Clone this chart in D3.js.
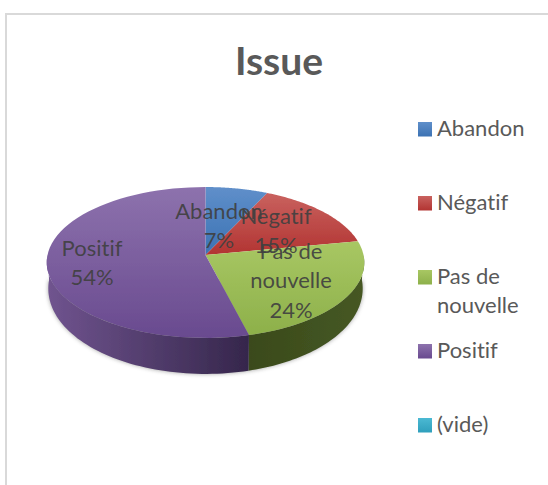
<!DOCTYPE html>
<html>
<head>
<meta charset="utf-8">
<script src="https://cdn.jsdelivr.net/npm/d3@7"></script>
<style>
  html, body { margin: 0; padding: 0; background: #fff; overflow: hidden; }
  text { font-family: Lato, "Open Sans", sans-serif; font-variant-ligatures: none; }
</style>
</head>
<body>
<div id="viz"></div>
<script>
const categories = ['Abandon', 'Négatif', 'Pas de nouvelle', 'Positif', '(vide)'];
const values = [7, 15, 24, 54, 0];
const legendLines = [['Abandon'], ['Négatif'], ['Pas de', 'nouvelle'], ['Positif'], ['(vide)']];
const labelLines = [['Abandon'], ['Négatif'], ['Pas de', 'nouvelle'], ['Positif'], []];

const width = 548;
const height = 485;
const topColors = [['#5f8fca', '#3c72b3'], ['#c9625f', '#b23432'], ['#a8c763', '#8db04a'], ['#8d72ad', '#694a8f'], ['#4bb9d3', '#2f9fbc']];
const wallColors = { 2: ['#3a4a1b', '#465824'], 3: ['#70548f', '#35264b'] };

// pie geometry, the tilt is a small perspective so the far side looks shorter
const cx = 205.5, cy = 255, rx = 158, ry = 74.7, persp = 0.099;
const project = (a, r = 1) => {
  const s = 1 / (1 + persp * Math.cos(a) * r);
  return [cx + rx * r * Math.sin(a) * s, cy - ry * r * Math.cos(a) * s];
};
const projectLow = a => {
  const [x, y] = project(a);
  return [cx + (x - cx) * 0.99, y + 25 - 11 * Math.cos(a)];
};

const svg = d3.select('#viz').append('svg')
  .attr('width', width)
  .attr('height', height)
  .style('display', 'block');

const defs = svg.append('defs');
const blur = defs.append('filter').attr('id', 'soft')
  .attr('x', '-10%').attr('y', '-10%').attr('width', '120%').attr('height', '120%');
blur.append('feGaussianBlur').attr('stdDeviation', 2.2);
const slightBlur = defs.append('filter').attr('id', 'slight');
slightBlur.append('feGaussianBlur').attr('stdDeviation', 0.35);

topColors.forEach((c, i) => {
  const g = defs.append('linearGradient').attr('id', `top${i}`)
    .attr('x1', 0).attr('y1', 0).attr('x2', 0).attr('y2', 1);
  g.append('stop').attr('offset', '0%').attr('stop-color', c[0]);
  g.append('stop').attr('offset', '100%').attr('stop-color', c[1]);
});
Object.entries(wallColors).forEach(([i, c]) => {
  const g = defs.append('linearGradient').attr('id', `wall${i}`)
    .attr('gradientUnits', 'userSpaceOnUse')
    .attr('x1', i == 3 ? 47 : 250).attr('y1', 0).attr('x2', i == 3 ? 250 : 364).attr('y2', 0);
  g.append('stop').attr('offset', '0%').attr('stop-color', c[0]);
  g.append('stop').attr('offset', '100%').attr('stop-color', c[1]);
});

// chart frame, only the top and left edges are in the crop
svg.append('path')
  .attr('d', `M6,${height}V14H${width}`)
  .attr('fill', 'none')
  .attr('stroke', '#d9d9d9')
  .attr('stroke-width', 2);

svg.append('text')
  .attr('x', 279)
  .attr('y', 75)
  .attr('text-anchor', 'middle')
  .attr('font-size', 39)
  .attr('font-weight', 700)
  .attr('fill', '#595959')
  .text('Issue');

const pie = d3.pie().sort(null).value(d => d);
const arcs = pie(values).slice(0, 4);
const line = d3.line();
const rim = (a0, a1, fn) => d3.range(0, 61).map(i => fn(a0 + (a1 - a0) * i / 60));

// soft shadow under the front of the pie only
svg.append('path')
  .attr('d', line(rim(Math.PI / 2, Math.PI * 1.5, projectLow)) + 'Z')
  .attr('fill', '#555')
  .attr('opacity', 0.55)
  .attr('filter', 'url(#soft)');

const pieGroup = svg.append('g').attr('filter', 'url(#slight)');

// side wall: only the rim facing the viewer
arcs.forEach((d, i) => {
  const a0 = Math.max(d.startAngle, Math.PI / 2);
  const a1 = Math.min(d.endAngle, Math.PI * 1.5);
  if (a1 <= a0) return;
  const pts = rim(a0, a1, project).concat(rim(a1, a0, projectLow));
  pieGroup.append('path')
    .attr('d', line(pts) + 'Z')
    .attr('fill', `url(#wall${i})`);
});

// top face
arcs.forEach((d, i) => {
  const pts = [[cx, cy]].concat(rim(d.startAngle, d.endAngle, project));
  pieGroup.append('path')
    .attr('d', line(pts) + 'Z')
    .attr('fill', `url(#top${i})`);
});

// data labels
const labelSpots = [[219, 219], [276, 224], [291, 259], [92, 256]];
const fontSize = 22;
const rowH = 29.3;
arcs.forEach((d, i) => {
  const rows = labelLines[i].concat(`${values[i]}%`);
  rows.forEach((t, k) => {
    svg.append('text')
      .attr('x', labelSpots[i][0])
      .attr('y', labelSpots[i][1] + k * rowH)
      .attr('text-anchor', 'middle')
      .attr('font-size', fontSize)
      .attr('fill', '#404040')
      .attr('fill-opacity', 0.92)
      .text(t);
  });
});

// legend
const legendY = d3.scalePoint().domain(categories).range([129, 425]);
categories.forEach((c, i) => {
  const y = legendY(c);
  svg.append('rect')
    .attr('x', 418)
    .attr('y', y - 7)
    .attr('width', 14)
    .attr('height', 14.5)
    .attr('fill', `url(#top${i})`);
  legendLines[i].forEach((t, k) => {
    svg.append('text')
      .attr('x', 437)
      .attr('y', y + 7 + k * 29)
      .attr('font-size', fontSize)
      .attr('fill', '#595959')
      .text(t);
  });
});
</script>
</body>
</html>
